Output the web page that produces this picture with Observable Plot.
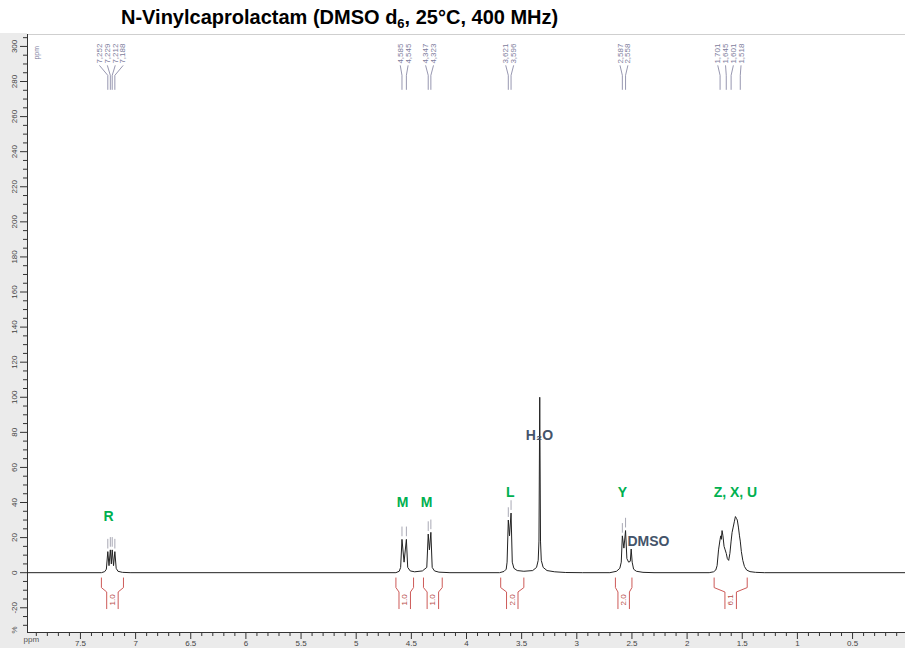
<!DOCTYPE html>
<html>
<head>
<meta charset="utf-8">
<script src="https://cdn.jsdelivr.net/npm/d3@7"></script>
<script src="https://cdn.jsdelivr.net/npm/@observablehq/plot@0.6"></script>
<style>
  body { margin: 0; background: #fff; }
  #wrap { position: relative; width: 905px; height: 648px; overflow: hidden; font-family: "Liberation Sans", Arial, sans-serif; background: #fff; }
  #title { position: absolute; left: 121px; top: 6px; font-weight: bold; font-size: 20px; line-height: 22px; color: #000; white-space: nowrap; }
  #title sub { font-size: 13px; vertical-align: -4px; line-height: 0; }
  .strip { position: absolute; background: #ebebeb; }
  #chart { position: absolute; left: 0; top: 33px; }
  #chart svg { background: transparent; }
</style>
</head>
<body>
<div id="wrap">
  <div class="strip" style="left:0;top:33px;width:27px;height:615px"></div>
  <div class="strip" style="left:0;top:632px;width:905px;height:16px"></div>
  <div id="title">N-Vinylcaprolactam (DMSO d<sub>6</sub>, 25°C, 400 MHz)</div>
  <div id="chart"></div>
</div>
<script>
// Axis tick values
const xMajorTicks = [7.5, 7, 6.5, 6, 5.5, 5, 4.5, 4, 3.5, 3, 2.5, 2, 1.5, 1, 0.5];
const yMajorTicks = [-20, 0, 20, 40, 60, 80, 100, 120, 140, 160, 180, 200, 220, 240, 260, 280, 300];

// 1H spectrum: [chemical shift (ppm), relative intensity (%)]
const spectrum = [
  [7.98, 0], [7.31, 0], [7.28, 0.6], [7.265, 2], [7.252, 12], [7.241, 4], [7.229, 13], [7.220, 5],
  [7.212, 13], [7.200, 4], [7.188, 12], [7.176, 2.5], [7.16, 0.8], [7.12, 0.2], [7.05, 0],
  [4.64, 0], [4.61, 0.8], [4.597, 3], [4.585, 19], [4.566, 6], [4.545, 19], [4.533, 3], [4.51, 1],
  [4.47, 0.5], [4.40, 1], [4.36, 3], [4.347, 22], [4.336, 13], [4.323, 23], [4.311, 3], [4.29, 1],
  [4.25, 0.3], [4.15, 0],
  [3.70, 0], [3.66, 0.7], [3.64, 2], [3.632, 6], [3.621, 30], [3.610, 21], [3.596, 34], [3.585, 6],
  [3.57, 2.5], [3.54, 1.2], [3.48, 0.8], [3.40, 1.2], [3.365, 3], [3.350, 7], [3.343, 18], [3.336, 100],
  [3.329, 18], [3.322, 7], [3.305, 3], [3.27, 1.2], [3.20, 0.5], [3.10, 0.1], [2.95, 0],
  [2.70, 0], [2.64, 0.8], [2.61, 2.5], [2.597, 6], [2.587, 21], [2.573, 14], [2.558, 24], [2.546, 8],
  [2.53, 6], [2.515, 6.5], [2.507, 13.5], [2.498, 6], [2.485, 2], [2.46, 0.8], [2.40, 0.2], [2.30, 0],
  [1.80, 0], [1.76, 0.5], [1.74, 1.5], [1.728, 4], [1.715, 13], [1.701, 19], [1.695, 21], [1.690, 19],
  [1.683, 24], [1.675, 21], [1.665, 15], [1.655, 13], [1.645, 11], [1.635, 8], [1.623, 7], [1.612, 11],
  [1.601, 18], [1.592, 23], [1.582, 26], [1.572, 29], [1.562, 32], [1.553, 31], [1.545, 30], [1.535, 26],
  [1.525, 21], [1.518, 18], [1.508, 12], [1.495, 7], [1.48, 3.5], [1.46, 1.5], [1.43, 0.6], [1.38, 0.2],
  [1.30, 0], [0.02, 0]
];

// Picked peaks, grouped by multiplet (ppm)
const pickGroups = [
  [7.252, 7.229, 7.212, 7.188],
  [4.585, 4.545],
  [4.347, 4.323],
  [3.621, 3.596],
  [2.587, 2.558],
  [1.701, 1.645, 1.601, 1.518]
];
// Groups that carry a small peak marker above each line
const markedGroups = [0, 1, 2, 3, 4];

// Integration regions
const integralFrom = [7.31, 4.64, 4.39, 3.69, 2.65, 1.755];
const integralTo = [7.11, 4.48, 4.22, 3.48, 2.50, 1.455];
const integralValue = ["1.0", "1.0", "1.0", "2.0", "2.0", "6.1"];

// Assignment labels
const assignText = ["R", "M", "M", "L", "Y", "Z, X, U"];
const assignPpm = [7.246, 4.58, 4.363, 3.602, 2.586, 1.562];
const assignY = [32, 40, 40, 45.5, 45.5, 45.5];
const solventText = ["H\u2082O", "DMSO"];
const solventPpm = [3.339, 2.35];
const solventY = [78, 18];

const pickColor = "#7c7c9c";
const intColor = "#cd5a58";

const intensityAt = new Map(spectrum.map(([p, v]) => [p, v]));

// top peak-pick labels and their connector lines
const spacing = 0.07;
const picks = [];
pickGroups.forEach((g, gi) => {
  const c = d3.mean(g);
  g.forEach((p, i) => {
    picks.push({group: gi, ppm: p, labelPpm: c + ((g.length - 1) / 2 - i) * spacing, label: p.toFixed(3).replace(".", ",")});
  });
});
const connectors = picks.flatMap((d, i) => [
  {k: i, x: d.labelPpm, y: 289},
  {k: i, x: d.ppm, y: 283.5},
  {k: i, x: d.ppm, y: 275.5}
]);
const markers = picks.filter(d => markedGroups.includes(d.group))
  .map(d => ({x: d.ppm, y1: intensityAt.get(d.ppm) + 1.5, y2: intensityAt.get(d.ppm) + 7}));

// integral brackets
const inner = 0.052;
const brackets = integralFrom.flatMap((from, i) => {
  const to = integralTo[i], c = (from + to) / 2;
  return [
    {k: `${i}a`, x: from, y: -3}, {k: `${i}a`, x: from, y: -8.5}, {k: `${i}a`, x: c + inner, y: -11}, {k: `${i}a`, x: c + inner, y: -20.5},
    {k: `${i}b`, x: to, y: -3}, {k: `${i}b`, x: to, y: -8.5}, {k: `${i}b`, x: c - inner, y: -11}, {k: `${i}b`, x: c - inner, y: -20.5}
  ];
});
const integralLabels = integralValue.map((v, i) => ({x: (integralFrom[i] + integralTo[i]) / 2, text: v}));

const xMinor = d3.range(1, 80).map(i => i / 10).filter(v => Math.round(v * 10) % 5 !== 0);
const yMinor = d3.range(-30, 306, 5).filter(v => v % 20 !== 0);

const chart = Plot.plot({
  width: 905,
  height: 615,
  marginLeft: 27,
  marginRight: 0,
  marginTop: 1,
  marginBottom: 16,
  style: {fontFamily: "Liberation Sans, Arial, sans-serif", background: "transparent", color: "#333"},
  x: {domain: [7.98, 0.02], label: null},
  y: {domain: [-34.1, 306.8], label: null},
  marks: [
    Plot.frame({anchor: "top", stroke: "#cfcfcf"}),
    Plot.axisY(yMinor, {anchor: "left", tickSize: 4, tickFormat: () => "", label: null}),
    Plot.axisY(yMajorTicks, {anchor: "left", tickSize: 7, tickRotate: -90, tickPadding: 4, fontSize: 8, fill: "#444", tickFormat: d => String(d), label: null}),
    Plot.axisX(xMinor, {anchor: "bottom", tickSize: 4, tickFormat: () => "", label: null}),
    Plot.axisX(xMajorTicks, {anchor: "bottom", tickSize: 7, tickPadding: 1, fontSize: 8, fill: "#444", tickFormat: d => String(d), label: null}),
    Plot.frame({anchor: "left", stroke: "#333"}),
    Plot.frame({anchor: "bottom", stroke: "#333"}),
    Plot.text(["%"], {frameAnchor: "bottom-left", dx: -11, dy: 1, rotate: -90, fontSize: 8, fill: "#555"}),
    Plot.text(["ppm"], {frameAnchor: "bottom-left", dx: -4, dy: 9, textAnchor: "start", fontSize: 8, fill: "#555"}),
    Plot.text(["ppm"], {x: 7.893, y: 292.5, rotate: -90, textAnchor: "start", fontSize: 7, fill: pickColor}),
    // spectrum trace
    Plot.line(spectrum, {x: d => d[0], y: d => d[1], stroke: "#222", strokeWidth: 1}),
    // peak markers
    Plot.ruleX(markers, {x: "x", y1: "y1", y2: "y2", stroke: "#a8a8b4", strokeWidth: 1}),
    // peak-pick annotations
    Plot.line(connectors, {x: "x", y: "y", z: "k", stroke: pickColor, strokeWidth: 0.8}),
    Plot.text(picks, {x: "labelPpm", y: 290.2, text: "label", rotate: -90, textAnchor: "start", fontSize: 8, fill: pickColor}),
    // integrals
    Plot.line(brackets, {x: "x", y: "y", z: "k", stroke: intColor, strokeWidth: 1}),
    Plot.text(integralLabels, {x: "x", y: -15.5, text: "text", rotate: -90, fontSize: 8, fill: "#b84a48"}),
    // assignments
    Plot.text(assignText, {x: (d, i) => assignPpm[i], y: (d, i) => assignY[i], text: d => d, fontSize: 14, fontWeight: "bold", fill: "#00b050"}),
    Plot.text(solventText, {x: (d, i) => solventPpm[i], y: (d, i) => solventY[i], text: d => d, fontSize: 14, fontWeight: "bold", fill: "#44546a"})
  ]
});
document.getElementById("chart").appendChild(chart);
</script>
</body>
</html>
